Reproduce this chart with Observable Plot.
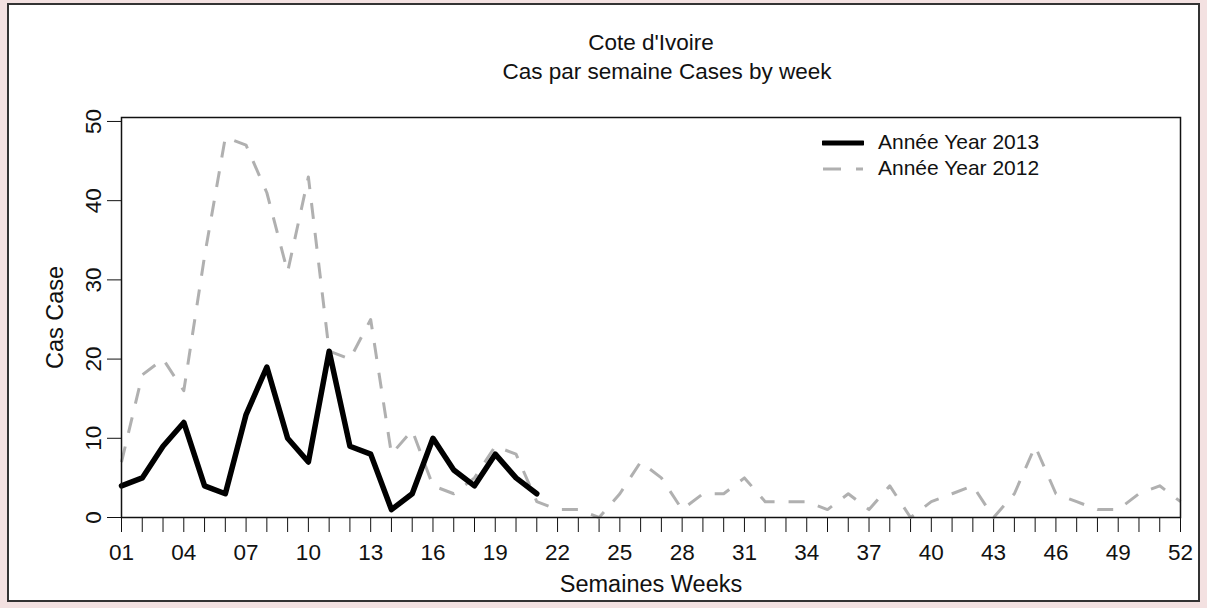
<!DOCTYPE html>
<html>
<head>
<meta charset="utf-8">
<script src="https://cdn.jsdelivr.net/npm/d3@7"></script>
<script src="https://cdn.jsdelivr.net/npm/@observablehq/plot@0.6"></script>
<style>
  html, body { margin: 0; padding: 0; }
  body { width: 1207px; height: 608px; background: #f3e1e1; position: relative; overflow: hidden;
         font-family: "Liberation Sans", Arial, sans-serif; color: #111; }
  #panel { position: absolute; left: 7px; top: 3px; width: 1193px; height: 599px; box-sizing: border-box;
           border: 2px solid #333; background: #fff; }
  #chart { position: absolute; left: 0; top: 0; }
  .leg { position: absolute; left: 822px; font-size: 21px; line-height: 26px; white-space: nowrap; }
  .leg svg { vertical-align: middle; margin-right: 14px; }
</style>
</head>
<body>
<div id="panel"></div>
<div id="chart"></div>
<div class="leg" id="leg2013" style="top:129px"></div>
<div class="leg" id="leg2012" style="top:155px"></div>
<script>
// ---- data ----
const weeks = [1,2,3,4,5,6,7,8,9,10,11,12,13,14,15,16,17,18,19,20,21,22,23,24,25,26,
               27,28,29,30,31,32,33,34,35,36,37,38,39,40,41,42,43,44,45,46,47,48,49,50,51,52];
const cases2013 = [4,5,9,12,4,3,13,19,10,7,21,9,8,1,3,10,6,4,8,5,3];
const cases2012 = [7,18,20,16,33,48,47,41,31,43,21,20,25,8,11,4,3,5,9,8,2,
                   1,1,0,3,7,5,1,3,3,5,
                   2,2,2,1,3,1,4,0,2,3,4,0,3,9,3,2,1,1,3,4,2];
const seriesNames = ["Année Year 2013", "Année Year 2012"];
const yTicks = [0,10,20,30,40,50];
const xLabelWeeks = [1,4,7,10,13,16,19,22,25,28,31,34,37,40,43,46,49,52];
const xTickLabels = ["01","04","07","10","13","16","19","22","25","28","31","34","37","40","43","46","49","52"];
const titleText = "Cote d'Ivoire";
const subtitleText = "Cas par semaine Cases by week";
const xTitle = "Semaines Weeks";
const yTitle = "Cas Case";

const rows2013 = cases2013.map((c, i) => ({week: weeks[i], cases: c}));
const rows2012 = cases2012.map((c, i) => ({week: weeks[i], cases: c}));

const col2012 = "#b0b0b0";
const col2013 = "#000000";

const chart = Plot.plot({
  width: 1207,
  height: 608,
  marginLeft: 121,
  marginRight: 27,
  marginTop: 117,
  marginBottom: 91,
  style: {background: "transparent", fontFamily: "'Liberation Sans', Arial, sans-serif", color: "#111"},
  x: {type: "linear", domain: [1, 52]},
  y: {domain: [0, 50.5]},
  marks: [
    Plot.axisX({ticks: weeks, tickSize: 15, tickPadding: 12, fontSize: 22.5, label: null,
                tickFormat: d => { const k = xLabelWeeks.indexOf(d); return k >= 0 ? xTickLabels[k] : ""; }}),
    Plot.axisY({ticks: yTicks, tickSize: 14, tickPadding: 7, tickRotate: -90, fontSize: 22.5, label: null}),
    Plot.lineY(rows2012, {x: "week", y: "cases", stroke: col2012, strokeWidth: 3,
                          strokeDasharray: "16,14", strokeLinecap: "butt", strokeLinejoin: "round"}),
    Plot.lineY(rows2013, {x: "week", y: "cases", stroke: col2013, strokeWidth: 5.5,
                          strokeLinejoin: "round", strokeLinecap: "round"}),
    Plot.frame({stroke: "#111", strokeWidth: 1.5}),
    Plot.text([titleText], {text: d => d, frameAnchor: "top", lineAnchor: "middle", dy: -75, fontSize: 22.5, fill: "#111"}),
    Plot.text([subtitleText], {text: d => d, frameAnchor: "top", lineAnchor: "middle", dx: 16, dy: -46, fontSize: 22.5, fill: "#111"}),
    Plot.text([xTitle], {text: d => d, frameAnchor: "bottom", lineAnchor: "middle", dy: 67, fontSize: 23.5, fill: "#111"}),
    Plot.text([yTitle], {text: d => d, frameAnchor: "left", textAnchor: "middle", lineAnchor: "middle",
                         dx: -66, rotate: -90, fontSize: 23.5, fill: "#111"})
  ]
});
document.getElementById("chart").appendChild(chart);

// legend
function legendRow(id, name, color, width, dash) {
  const el = document.getElementById(id);
  el.innerHTML = `<svg width="42" height="10"><line x1="1" x2="41" y1="5" y2="5" stroke="${color}" stroke-width="${width}" ${dash ? `stroke-dasharray="${dash}"` : 'stroke-linecap="round"'}/></svg>`;
  el.appendChild(document.createTextNode(name));
}
legendRow("leg2013", seriesNames[0], col2013, 5, null);
legendRow("leg2012", seriesNames[1], col2012, 3, "18,15");
</script>
</body>
</html>
